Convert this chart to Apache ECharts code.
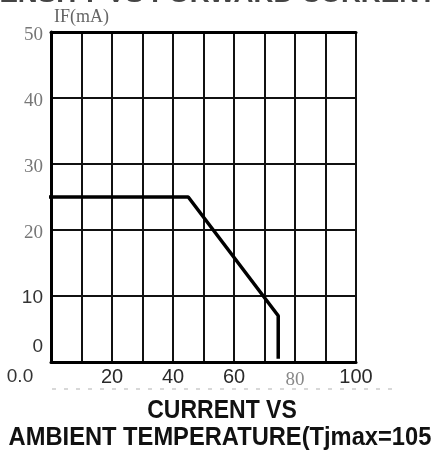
<!DOCTYPE html>
<html><head><meta charset="utf-8">
<script src="https://cdn.jsdelivr.net/npm/echarts@6/dist/echarts.min.js"></script>
<style>html,body{margin:0;padding:0;background:#fff}#c{width:433px;height:457px}</style>
</head><body><div id="c"></div>
<script>
// Data
var temperature = [-1, 45, 74.5, 74.5];      // ambient temperature (°C)
var forwardCurrent = [25, 25, 7, 0.5];        // IF (mA)
var xTickLabels = {0: '0.0', 20: '20', 40: '40', 60: '60', 80: '80', 100: '100'};
var yTickLabels = {0: '0', 10: '10', 20: '20', 30: '30', 40: '40', 50: '50'};
var yName = 'IF(mA)';
var titleLines = ['CURRENT VS', 'AMBIENT TEMPERATURE(Tjmax=105'];
var cutTitle = 'INTENSITY VS FORWARD CURRENT';

var lineData = temperature.map(function (t, i) { return [t, forwardCurrent[i]]; });

var chart = echarts.init(document.getElementById('c'), null, {renderer: 'canvas'});
chart.setOption({
  animation: false,
  backgroundColor: '#fff',
  grid: {left: 51, right: 77, top: 32, bottom: 95},
  xAxis: [{
    type: 'value', min: 0, max: 100, interval: 10, position: 'bottom',
    axisLine: {show: true, lineStyle: {color: '#000', width: 3}},
    axisTick: {show: false},
    splitLine: {show: true, lineStyle: {color: '#111', width: 2}},
    axisLabel: {
      margin: 5,
      formatter: function (v) {
        var t = xTickLabels[v];
        if (t === undefined) return '';
        if (v === 0) return '{z|' + t + '}';
        if (v === 80) return '{s|' + t + '}';
        return '{n|' + t + '}';
      },
      rich: {
        z: {fontFamily: 'Liberation Sans', fontSize: 19, color: '#333', padding: [0, 62, 0, 0]},
        n: {fontFamily: 'Liberation Sans', fontSize: 20, color: '#2a2a2a'},
        s: {fontFamily: 'Liberation Serif', fontSize: 19, color: '#888', padding: [4, 0, 0, 0]}
      }
    }
  }, {
    type: 'value', min: 0, max: 100, position: 'top',
    axisLine: {show: true, lineStyle: {color: '#000', width: 3}},
    axisTick: {show: false}, axisLabel: {show: false}, splitLine: {show: false}
  }],
  yAxis: {
    type: 'value', min: 0, max: 50, interval: 10,
    name: yName, nameLocation: 'end', nameGap: 6,
    nameTextStyle: {fontFamily: 'Liberation Serif', fontSize: 18, color: '#666', align: 'left', padding: [0, 0, 0, 3]},
    axisLine: {show: true, lineStyle: {color: '#000', width: 3}},
    axisTick: {show: false},
    splitLine: {show: true, lineStyle: {color: '#111', width: 2}},
    axisLabel: {
      margin: 8,
      formatter: function (v) {
        var t = yTickLabels[v];
        if (t === undefined) return '';
        if (v === 0) return '{z|' + t + '}';
        if (v === 10) return '{n|' + t + '}';
        return '{s|' + t + '}';
      },
      rich: {
        z: {fontFamily: 'Liberation Sans', fontSize: 19, color: '#333', padding: [0, 0, 30, 0]},
        n: {fontFamily: 'Liberation Sans', fontSize: 19, color: '#333', padding: [4, 0, 0, 0]},
        s: {fontFamily: 'Liberation Serif', fontSize: 19, color: '#777', padding: [6, 0, 0, 0]}
      }
    }
  },
  series: [{
    type: 'line', data: lineData, showSymbol: false, symbol: 'none', clip: false,
    lineStyle: {color: '#000', width: 3.5}, z: 5
  }],
  graphic: [
    {type: 'text', x: -45, y: 7, scaleX: 1.2,
      style: {text: cutTitle, font: 'bold 23px "Liberation Sans"', fill: '#444', verticalAlign: 'bottom'}},
    {type: 'line', shape: {x1: 52, y1: 389, x2: 392, y2: 389},
      style: {stroke: '#ccc', lineWidth: 1.5, lineDash: [4, 8]}},
    {type: 'text', x: 222, y: 411, scaleY: 1.15, scaleX: 1.0,
      style: {text: titleLines[0], font: 'bold 23px "Liberation Sans"', fill: '#111', align: 'center', verticalAlign: 'middle'}},
    {type: 'text', x: 220, y: 438, scaleY: 1.15, scaleX: 1.03,
      style: {text: titleLines[1], font: 'bold 23px "Liberation Sans"', fill: '#111', align: 'center', verticalAlign: 'middle'}}
  ]
});
</script></body></html>
